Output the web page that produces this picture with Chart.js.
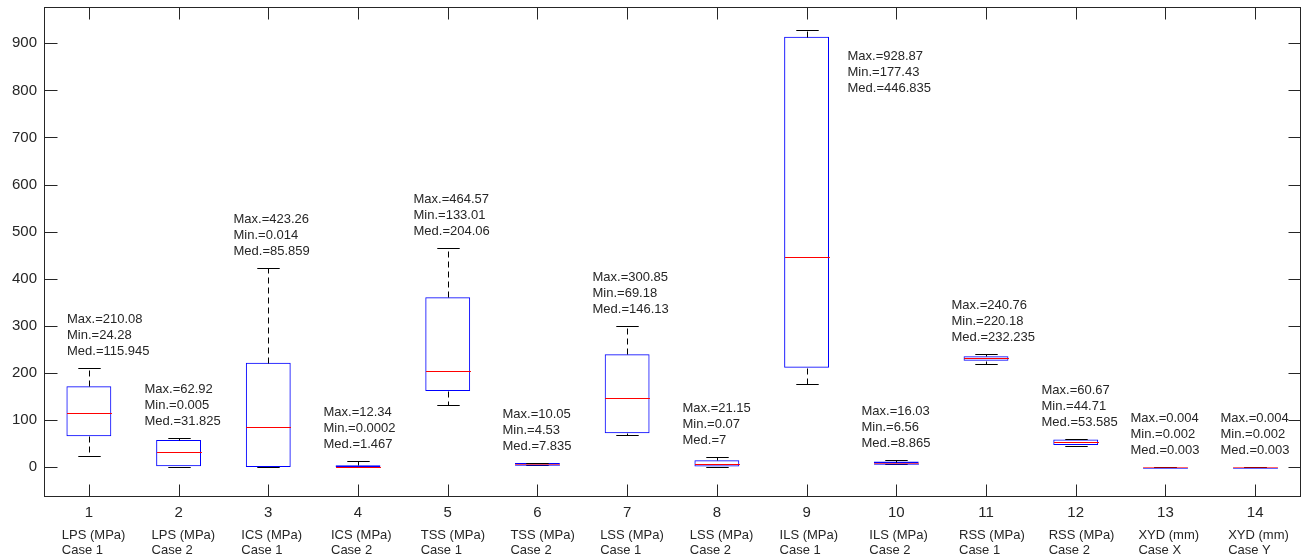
<!DOCTYPE html>
<html>
<head>
<meta charset="utf-8">
<script src="https://cdn.jsdelivr.net/npm/chart.js@4.4.1/dist/chart.umd.min.js"></script>
<style>
  html, body { margin: 0; padding: 0; background: #fff; }
</style>
</head>
<body>
<canvas id="boxChart" width="1307" height="560"></canvas>
<script>
// Dados do boxplot
const categories = ['1', '2', '3', '4', '5', '6', '7', '8', '9', '10', '11', '12', '13', '14'];
const quantities = ['LPS (MPa)', 'LPS (MPa)', 'ICS (MPa)', 'ICS (MPa)', 'TSS (MPa)', 'TSS (MPa)', 'LSS (MPa)',
  'LSS (MPa)', 'ILS (MPa)', 'ILS (MPa)', 'RSS (MPa)', 'RSS (MPa)', 'XYD (mm)', 'XYD (mm)'];
const caseNames = ['Case 1', 'Case 2', 'Case 1', 'Case 2', 'Case 1', 'Case 2', 'Case 1',
  'Case 2', 'Case 1', 'Case 2', 'Case 1', 'Case 2', 'Case X', 'Case Y'];
const maxVals = [210.08, 62.92, 423.26, 12.34, 464.57, 10.05, 300.85, 21.15, 928.87, 16.03, 240.76, 60.67, 0.004, 0.004];
const minVals = [24.28, 0.005, 0.014, 0.0002, 133.01, 4.53, 69.18, 0.07, 177.43, 6.56, 220.18, 44.71, 0.002, 0.002];
const medVals = [115.945, 31.825, 85.859, 1.467, 204.06, 7.835, 146.13, 7, 446.835, 8.865, 232.235, 53.585, 0.003, 0.003];
const q1Vals = [66, 2, 0.3, 0.1, 162, 6, 72, 1.5, 211, 8, 226, 47, 0.0025, 0.0025];
const q3Vals = [172, 58, 222, 4.5, 361, 9, 240, 15, 914, 12, 235.5, 59, 0.0035, 0.0035];
const yTicks = [0, 100, 200, 300, 400, 500, 600, 700, 800, 900];

const FONT = "'Liberation Sans', Arial, sans-serif";
const INK = '#262626';

function hline(ctx, x1, x2, y) {
  ctx.beginPath();
  ctx.moveTo(x1, y);
  ctx.lineTo(x2, y);
  ctx.stroke();
}

function vline(ctx, x, y1, y2) {
  ctx.beginPath();
  ctx.moveTo(x, y1);
  ctx.lineTo(x, y2);
  ctx.stroke();
}

// Bigodes, medianas e anotacoes
const boxDecor = {
  id: 'boxDecor',
  afterDatasetsDraw(chart) {
    const { ctx, chartArea, scales: { x, y } } = chart;
    const meta = chart.getDatasetMeta(0);
    ctx.save();
    ctx.lineWidth = 1;
    categories.forEach((c, i) => {
      const cx = Math.round(x.getPixelForValue(i)) + 0.5;
      const half = meta.data[i].width / 2;
      const cap = half / 2;
      const py = v => Math.round(y.getPixelForValue(v)) + 0.5;
      const yMax = py(maxVals[i]);
      const yMin = py(minVals[i]);
      const yQ1 = py(q1Vals[i]);
      const yQ3 = py(q3Vals[i]);
      const yMed = py(medVals[i]);

      ctx.strokeStyle = '#000';
      ctx.setLineDash([6, 4]);
      if (yQ3 - yMax > 1) vline(ctx, cx, yQ3, yMax);
      if (yMin - yQ1 > 1) vline(ctx, cx, yQ1, yMin);
      ctx.setLineDash([]);
      hline(ctx, cx - cap, cx + cap, yMax);
      hline(ctx, cx - cap, cx + cap, yMin);

      // caixa achatada: contorno azul por baixo da mediana
      if (yQ1 - yQ3 < 2) {
        ctx.strokeStyle = 'rgba(0, 0, 255, 0.6)';
        hline(ctx, cx - half, cx + half, yMed + 1);
      }
      ctx.strokeStyle = yQ1 - yQ3 < 2 ? 'rgba(255, 0, 0, 0.6)' : '#ff0000';
      hline(ctx, cx - half, cx + half, yMed);

      // texto Max/Min/Med
      const lines = ['Max.=' + maxVals[i], 'Min.=' + minVals[i], 'Med.=' + medVals[i]];
      ctx.font = '13px ' + FONT;
      ctx.fillStyle = INK;
      ctx.textAlign = 'left';
      ctx.textBaseline = 'middle';
      let tx = Math.max(cx - 35, chartArea.left + 23);
      let firstY = yMax - 17 - 32;
      if (firstY - 8 < chartArea.top) {
        tx = cx + 40;
        firstY = yMax + 26;
      }
      lines.forEach((t, k) => ctx.fillText(t, tx, firstY + k * 16));
    });
    ctx.restore();
  },
  afterDraw(chart) {
    const { ctx, chartArea, scales: { x, y } } = chart;
    const L = Math.round(chartArea.left) + 0.5;
    const R = Math.round(chartArea.right) + 0.5;
    const T = Math.round(chartArea.top) + 0.5;
    const B = Math.round(chartArea.bottom) + 0.5;
    ctx.save();
    ctx.strokeStyle = INK;
    ctx.lineWidth = 1;
    ctx.strokeRect(L, T, R - L, B - T);
    yTicks.forEach(v => {
      const py = Math.round(y.getPixelForValue(v)) + 0.5;
      hline(ctx, L, L + 13, py);
      hline(ctx, R, R - 12, py);
    });
    categories.forEach((c, i) => {
      const px = Math.round(x.getPixelForValue(i)) + 0.5;
      vline(ctx, px, B, B - 12);
      vline(ctx, px, T, T + 12);
    });

    // nomes das categorias abaixo dos numeros
    ctx.font = '13px ' + FONT;
    ctx.fillStyle = INK;
    ctx.textAlign = 'left';
    ctx.textBaseline = 'middle';
    categories.forEach((c, i) => {
      const px = x.getPixelForValue(i) - 27;
      ctx.fillText(quantities[i], px, chartArea.bottom + 39);
      ctx.fillText(caseNames[i], px, chartArea.bottom + 54);
    });
    ctx.restore();
  }
};

const ctx = document.getElementById('boxChart').getContext('2d');
new Chart(ctx, {
  type: 'bar',
  data: {
    labels: categories,
    datasets: [{
      data: q1Vals.map((q, i) => [q, q3Vals[i]]),
      backgroundColor: 'rgba(255, 255, 255, 0)',
      borderColor: '#0000ff',
      borderWidth: 1,
      borderSkipped: false,
      barPercentage: 0.5,
      categoryPercentage: 1
    }]
  },
  options: {
    responsive: false,
    animation: false,
    layout: { padding: { top: 7, right: 7, left: 0, bottom: 0 } },
    plugins: {
      legend: { display: false },
      tooltip: { enabled: false }
    },
    scales: {
      x: {
        offset: true,
        grid: { display: false, drawTicks: false },
        border: { display: false },
        ticks: { color: INK, font: { family: FONT, size: 15 }, padding: 8, maxRotation: 0, autoSkip: false },
        afterFit: s => { s.height = 64; s.paddingLeft = 0; s.paddingRight = 0; }
      },
      y: {
        min: -61,
        max: 977,
        grid: { display: false, drawTicks: false },
        border: { display: false },
        ticks: { color: INK, font: { family: FONT, size: 15 }, padding: 7 },
        afterBuildTicks: s => { s.ticks = yTicks.map(v => ({ value: v })); },
        afterFit: s => { s.width = 44; s.paddingTop = 0; s.paddingBottom = 0; }
      }
    }
  },
  plugins: [boxDecor]
});
</script>
</body>
</html>
